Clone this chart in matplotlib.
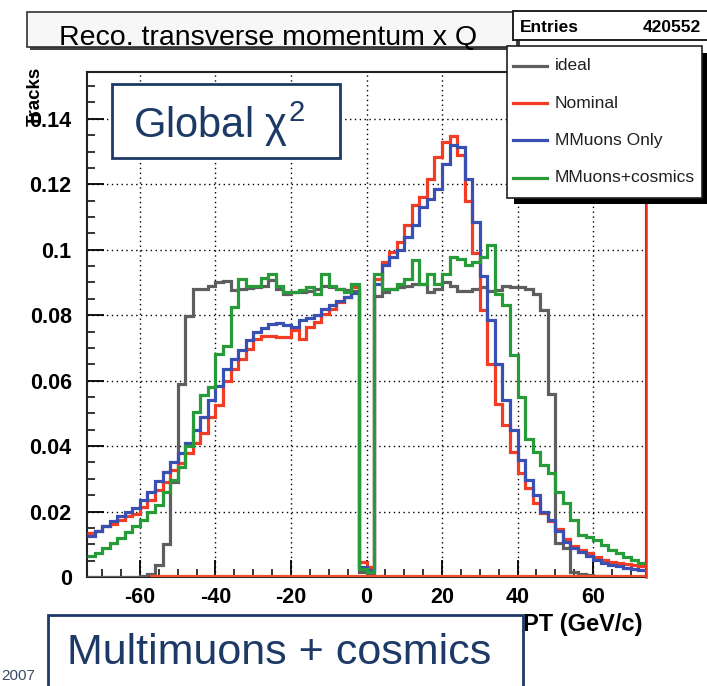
import numpy as np
import matplotlib
matplotlib.use("Agg")
import matplotlib.pyplot as plt
from matplotlib.patches import Rectangle
from matplotlib.lines import Line2D
from matplotlib.ticker import MultipleLocator

plt.rcParams['font.family'] = ['Liberation Sans', 'DejaVu Sans']
plt.rcParams['mathtext.fontset'] = 'custom'
plt.rcParams['mathtext.rm'] = 'Liberation Sans'
plt.rcParams['mathtext.it'] = 'Liberation Sans'

# histogram binning: 74 bins of 2 GeV/c from -74 to 74
x_min, x_max, bin_w = -74, 74, 2

ideal = [0, 0, 0, 0, 0, 0, 0, 0.0003, 0.0008, 0.0036, 0.0102, 0.029, 0.059, 0.0796,
         0.088, 0.088, 0.089, 0.0901, 0.0905, 0.0878, 0.088, 0.0882, 0.0885, 0.089,
         0.0906, 0.088, 0.0866, 0.087, 0.0872, 0.0875, 0.088, 0.0888, 0.0885, 0.088,
         0.0878, 0.0875, 0.0015, 0.0012,
         0.086, 0.087, 0.088, 0.0885, 0.089, 0.0895, 0.0895, 0.087, 0.088, 0.090,
         0.089, 0.0875, 0.0875, 0.088, 0.0885, 0.0875, 0.0878, 0.089, 0.0885, 0.0885,
         0.088, 0.0866, 0.0815, 0.056, 0.0105, 0.009, 0.0016, 0.001, 0.0005, 0.0003,
         0.0002, 0, 0, 0, 0, 0]

nominal = [0.0135, 0.014, 0.0155, 0.0163, 0.0173, 0.0185, 0.0194, 0.0214, 0.0235,
           0.0265, 0.029, 0.0327, 0.0347, 0.0378, 0.0408, 0.044, 0.049, 0.0525, 0.060,
           0.0636, 0.0667, 0.0697, 0.0728, 0.0736, 0.0736, 0.0733, 0.0733, 0.0754,
           0.0728, 0.0764, 0.078, 0.0805, 0.082, 0.084, 0.0856, 0.0885, 0.0045, 0.003,
           0.091, 0.0963, 0.0993, 0.1024, 0.1075, 0.1136, 0.116, 0.1217, 0.1283, 0.133,
           0.1347, 0.129, 0.115, 0.099, 0.0815, 0.065, 0.053, 0.0464, 0.0383, 0.0317,
           0.0271, 0.0225, 0.0195, 0.017, 0.0148, 0.0115, 0.0095, 0.0083, 0.0072,
           0.0062, 0.0053, 0.0047, 0.0042, 0.0039, 0.0037, 0.0034]

mmuons_only = [0.0125, 0.014, 0.0155, 0.017, 0.0185, 0.020, 0.021, 0.0235, 0.026,
               0.0294, 0.032, 0.035, 0.038, 0.041, 0.045, 0.049, 0.054, 0.0585, 0.0635,
               0.0665, 0.0695, 0.0723, 0.0749, 0.0762, 0.0773, 0.0776, 0.0769, 0.0764,
               0.0784, 0.0792, 0.0802, 0.082, 0.083, 0.0844, 0.0856, 0.0867, 0.003, 0.002,
               0.0895, 0.0953, 0.0978, 0.0998, 0.104, 0.1075, 0.113, 0.1156, 0.1187,
               0.1263, 0.132, 0.1314, 0.1217, 0.1085, 0.092, 0.0785, 0.0652, 0.054,
               0.0449, 0.0357, 0.0296, 0.025, 0.020, 0.0175, 0.014, 0.0108, 0.009,
               0.0075, 0.0063, 0.0053, 0.0044, 0.0038, 0.0033, 0.0029, 0.0025, 0.0021]

mmuons_cosmics = [0.0064, 0.0073, 0.009, 0.0105, 0.012, 0.0138, 0.0155, 0.0175, 0.020,
                  0.022, 0.026, 0.0295, 0.0335, 0.040, 0.0505, 0.0555, 0.058, 0.068,
                  0.0705, 0.0825, 0.091, 0.0888, 0.089, 0.0915, 0.0927, 0.089, 0.087,
                  0.087, 0.0876, 0.0886, 0.0866, 0.0927, 0.089, 0.088, 0.087, 0.0896,
                  0.0025, 0.0015,
                  0.0925, 0.088, 0.088, 0.0895, 0.091, 0.0968, 0.0895, 0.0925, 0.0895,
                  0.0925, 0.0978, 0.0973, 0.0953, 0.0963, 0.0978, 0.1014, 0.0866, 0.083,
                  0.0678, 0.055, 0.0423, 0.0383, 0.0342, 0.0317, 0.026, 0.0225, 0.0175,
                  0.0128, 0.0123, 0.0113, 0.0098, 0.0082, 0.0072, 0.0062, 0.0052, 0.0044]

series_names = ["ideal", "Nominal", "MMuons Only", "MMuons+cosmics"]
series_colors = ["#5e5e5e", "#f23c24", "#3a4fb2", "#279a3a"]

x_tick_values = [-60, -40, -20, 0, 20, 40, 60]
y_tick_values = [0, 0.02, 0.04, 0.06, 0.08, 0.1, 0.12, 0.14]
y_tick_labels = ["0", "0.02", "0.04", "0.06", "0.08", "0.1", "0.12", "0.14"]

edges = np.arange(x_min, x_max + bin_w, bin_w)

W, H = 707, 686
fig = plt.figure(figsize=(W / 100, H / 100), dpi=100)
fig.patch.set_facecolor("white")


def fx(px):
    return px / W


def fy(py):
    return 1 - py / H


ax = fig.add_axes([fx(87), fy(577), fx(646) - fx(87), fy(72) - fy(577)])
ax.set_xlim(x_min, x_max)
ax.set_ylim(0, 0.1543)

for vals, col in zip([ideal, nominal, mmuons_only, mmuons_cosmics], series_colors):
    ax.stairs(vals, edges, baseline=None, color=col, lw=2.3, zorder=3)

# red guide lines along the lower and right border
ax.plot([-57, x_max], [0.0002, 0.0002], color="#f2502c", lw=1.6, zorder=4, clip_on=False)
ax.plot([x_max, x_max], [0, 0.1543], color="#e8321e", lw=1.8, zorder=4, clip_on=False)

ax.xaxis.set_minor_locator(MultipleLocator(5))
ax.yaxis.set_minor_locator(MultipleLocator(0.005))
ax.set_xticks(x_tick_values)
ax.set_xticklabels([str(v) for v in x_tick_values])
ax.set_yticks(y_tick_values)
ax.set_yticklabels(y_tick_labels)
ax.tick_params(which="major", direction="in", length=12, width=1.3, top=False, right=False,
               labelsize=15.5, pad=7)
ax.tick_params(axis="y", which="major", pad=11)
ax.tick_params(which="minor", direction="in", length=6, width=1.1, top=False, right=False)
for lab in ax.get_xticklabels() + ax.get_yticklabels():
    lab.set_fontweight("bold")
ax.grid(True, which="major", color="black", linestyle=(0, (1, 2.5)), lw=1.0, zorder=1)
for s in ax.spines.values():
    s.set_linewidth(1.5)
    s.set_color("#222222")

# axis titles
fig.text(fx(583), fy(625), "PT (GeV/c)", ha="center", va="center", fontsize=17,
         fontweight="bold")
fig.text(fx(35), fy(96), "Tracks", rotation=90, ha="center", va="center", fontsize=13.5,
         fontweight="bold")

# title box with shadow
fig.patches.append(Rectangle((fx(30), fy(49.5)), fx(490), fy(14) - fy(47), transform=fig.transFigure,
                             facecolor="#404040", edgecolor="none", zorder=5))
fig.patches.append(Rectangle((fx(27), fy(47)), fx(490), fy(12) - fy(47), transform=fig.transFigure,
                             facecolor="#f7f7f7", edgecolor="#303030", lw=1.2, zorder=6))
fig.text(fx(268), fy(38), "Reco. transverse momentum x Q", ha="center", va="center",
         fontsize=20.5, zorder=7)

# statistics box
fig.patches.append(Rectangle((fx(513), fy(40)), fx(200), fy(11) - fy(40), transform=fig.transFigure,
                             facecolor="white", edgecolor="#202020", lw=1.4, zorder=6))
fig.text(fx(520), fy(27), "Entries", ha="left", va="center", fontsize=12.5, fontweight="bold",
         zorder=7)
fig.text(fx(701), fy(27), "420552", ha="right", va="center", fontsize=12.5, fontweight="bold",
         zorder=7)

# legend with drop shadow
fig.patches.append(Rectangle((fx(514), fy(204)), fx(193), fy(53) - fy(204), transform=fig.transFigure,
                             facecolor="black", edgecolor="none", zorder=6))
fig.patches.append(Rectangle((fx(507), fy(198)), fx(195), fy(46) - fy(198), transform=fig.transFigure,
                             facecolor="white", edgecolor="#202020", lw=1.2, zorder=7))
legend_y = [66, 103, 140, 178]
for name, col, ly in zip(series_names, series_colors, legend_y):
    fig.add_artist(Line2D([fx(513), fx(547)], [fy(ly), fy(ly)], color=col, lw=2.3,
                          transform=fig.transFigure, zorder=8))
    fig.text(fx(555), fy(ly), name, ha="left", va="center", fontsize=12.5, color="#202020",
             zorder=8)

# annotation boxes
navy = "#1d3a66"
fig.patches.append(Rectangle((fx(112), fy(158)), fx(228), fy(84) - fy(158), transform=fig.transFigure,
                             facecolor="white", edgecolor=navy, lw=2.0, zorder=9))
fig.text(fx(219), fy(124), r"Global $\chi^{2}$", ha="center", va="center", fontsize=30,
         color=navy, zorder=10)

fig.patches.append(Rectangle((fx(48), fy(700)), fx(475), fy(615) - fy(700), transform=fig.transFigure,
                             facecolor="white", edgecolor=navy, lw=2.0, zorder=9, clip_on=False))
fig.text(fx(279), fy(653), "Multimuons + cosmics", ha="center", va="center", fontsize=31,
         color=navy, zorder=10)
fig.text(fx(1), fy(676), "2007", ha="left", va="center", fontsize=11, color="#3a4a66",
         zorder=8)

fig.savefig("out.png", dpi=100)
